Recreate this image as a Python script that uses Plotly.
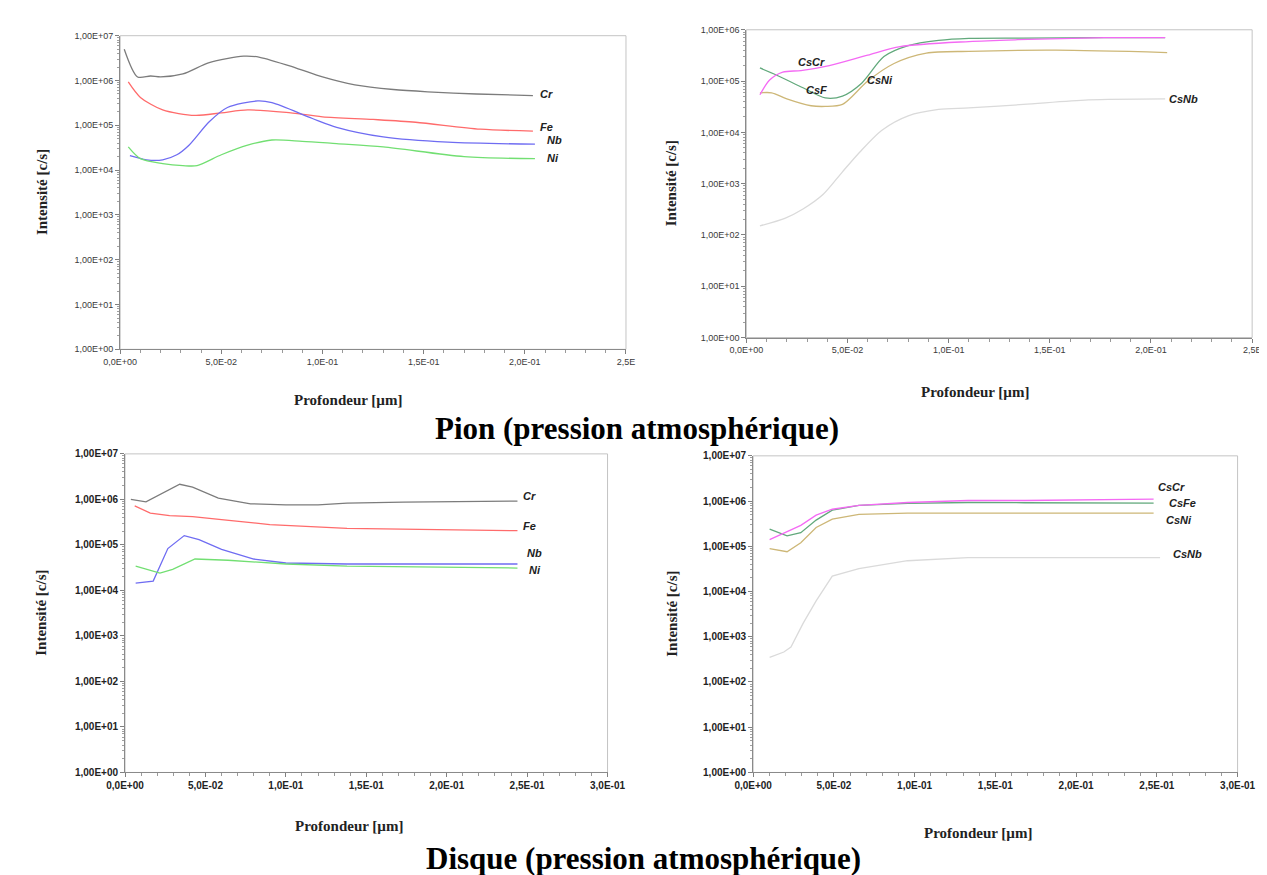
import plotly.graph_objects as go
import math

W, H = 1267, 875

# ---------------- data ----------------
# Pion - elements
pion_cr_x = [0.002, 0.0086, 0.015, 0.020, 0.031, 0.044, 0.061, 0.069, 0.087, 0.100, 0.116, 0.135, 0.152, 0.176, 0.204]
pion_cr_y = [5.0e6, 1.2e6, 1.26e6, 1.2e6, 1.4e6, 2.5e6, 3.5e6, 3.3e6, 1.9e6, 1.2e6, 8.0e5, 6.3e5, 5.6e5, 5.0e5, 4.6e5]
pion_fe_x = [0.004, 0.010, 0.021, 0.037, 0.050, 0.063, 0.082, 0.100, 0.125, 0.146, 0.178, 0.204]
pion_fe_y = [9.3e5, 4.2e5, 2.2e5, 1.66e5, 1.9e5, 2.2e5, 1.95e5, 1.55e5, 1.35e5, 1.17e5, 8.2e4, 7.4e4]
pion_nb_x = [0.0048, 0.013, 0.021, 0.028, 0.034, 0.044, 0.053, 0.068, 0.075, 0.095, 0.107, 0.130, 0.162, 0.205]
pion_nb_y = [2.1e4, 1.7e4, 1.7e4, 2.2e4, 3.6e4, 1.2e5, 2.5e5, 3.5e5, 3.2e5, 1.42e5, 9.0e4, 5.5e4, 4.2e4, 3.8e4]
pion_ni_x = [0.004, 0.010, 0.021, 0.031, 0.038, 0.050, 0.063, 0.075, 0.090, 0.107, 0.130, 0.170, 0.205]
pion_ni_y = [3.3e4, 1.8e4, 1.4e4, 1.26e4, 1.26e4, 2.2e4, 3.6e4, 4.7e4, 4.4e4, 3.9e4, 3.3e4, 2.0e4, 1.8e4]

# Pion - Cs clusters
pion_cscr_x = [0.0067, 0.0115, 0.018, 0.027, 0.041, 0.060, 0.076, 0.110, 0.134, 0.177, 0.207]
pion_cscr_y = [5.4e4, 1.05e5, 1.5e5, 1.6e5, 2.0e5, 3.2e5, 4.7e5, 5.9e5, 6.4e5, 7.0e5, 7.0e5]
pion_csfe_x = [0.0067, 0.015, 0.028, 0.039, 0.0475, 0.057, 0.068, 0.080, 0.095, 0.110, 0.137, 0.177, 0.207]
pion_csfe_y = [1.8e5, 1.3e5, 7.4e4, 4.7e4, 5.1e4, 9.1e4, 3.0e5, 4.9e5, 6.2e5, 6.8e5, 6.9e5, 7.0e5, 7.0e5]
pion_csni_x = [0.0067, 0.0125, 0.020, 0.032, 0.039, 0.0475, 0.060, 0.073, 0.089, 0.110, 0.153, 0.208]
pion_csni_y = [5.9e4, 5.9e4, 4.5e4, 3.3e4, 3.2e4, 3.5e4, 1.0e5, 2.2e5, 3.5e5, 3.8e5, 4.0e5, 3.6e5]
pion_csnb_x = [0.0067, 0.019, 0.028, 0.038, 0.0475, 0.056, 0.067, 0.080, 0.095, 0.110, 0.137, 0.169, 0.207]
pion_csnb_y = [1.5e2, 2.1e2, 3.2e2, 6.2e2, 1.7e3, 4.1e3, 1.1e4, 2.1e4, 2.8e4, 3.0e4, 3.5e4, 4.3e4, 4.5e4]

# Disque - elements
disq_cr_x = [0.0036, 0.013, 0.034, 0.042, 0.058, 0.078, 0.100, 0.120, 0.138, 0.173, 0.244]
disq_cr_y = [1.0e6, 8.8e5, 2.15e6, 1.85e6, 1.07e6, 8.0e5, 7.6e5, 7.6e5, 8.3e5, 8.7e5, 9.2e5]
disq_fe_x = [0.006, 0.0157, 0.0277, 0.042, 0.060, 0.090, 0.138, 0.173, 0.244]
disq_fe_y = [7.2e5, 5.0e5, 4.4e5, 4.2e5, 3.6e5, 2.8e5, 2.3e5, 2.2e5, 2.05e5]
disq_nb_x = [0.0066, 0.0175, 0.0266, 0.0368, 0.046, 0.060, 0.080, 0.100, 0.138, 0.244]
disq_nb_y = [1.45e4, 1.6e4, 8.3e4, 1.6e5, 1.3e5, 8.0e4, 4.9e4, 4.0e4, 3.8e4, 3.8e4]
disq_ni_x = [0.0066, 0.0217, 0.0296, 0.0435, 0.064, 0.100, 0.138, 0.244]
disq_ni_y = [3.4e4, 2.4e4, 2.9e4, 4.9e4, 4.6e4, 3.8e4, 3.4e4, 3.1e4]

# Disque - Cs clusters
disq_cs_x = [0.0102, 0.021, 0.0295, 0.039, 0.049, 0.0655, 0.0956, 0.133, 0.168, 0.248]
disq_cscr_y = [1.4e5, 2.1e5, 2.9e5, 4.9e5, 6.6e5, 8.0e5, 9.3e5, 1.03e6, 1.03e6, 1.1e6]
disq_csfe_y = [2.4e5, 1.7e5, 2.0e5, 3.8e5, 6.3e5, 8.0e5, 8.9e5, 9.3e5, 9.2e5, 9.0e5]
disq_csni_y = [8.9e4, 7.6e4, 1.2e5, 2.6e5, 4.0e5, 5.1e5, 5.4e5, 5.4e5, 5.4e5, 5.4e5]
disq_csnb_x = [0.0102, 0.019, 0.0234, 0.031, 0.039, 0.049, 0.0655, 0.0956, 0.133, 0.252]
disq_csnb_y = [3.5e2, 4.6e2, 5.9e2, 2.0e3, 6.2e3, 2.2e4, 3.2e4, 4.8e4, 5.6e4, 5.6e4]

# tick labels
y_ticktext_7 = ["1,00E+00", "1,00E+01", "1,00E+02", "1,00E+03", "1,00E+04", "1,00E+05", "1,00E+06", "1,00E+07"]
x_ticktext_top = ["0,0E+00", "5,0E-02", "1,0E-01", "1,5E-01", "2,0E-01", "2,5E"]
x_ticktext_bot = ["0,0E+00", "5,0E-02", "1,0E-01", "1,5E-01", "2,0E-01", "2,5E-01", "3,0E-01"]

titles = ["Pion (pression atmosphérique)", "Disque (pression atmosphérique)"]
x_title = "Profondeur [µm]"
y_title = "Intensité [c/s]"

# ---------------- styling ----------------
C_CR, C_FE, C_NB, C_NI = "#7c7c7c", "#ff6b6b", "#6f6cf2", "#72df72"
C_CSCR, C_CSFE, C_CSNI, C_CSNB = "#f46af4", "#62a97c", "#cdb777", "#dadada"

# panel boxes in pixels: (left, right, top, bottom)
boxes = {
    1: (96, 617, 22, 340),
    2: (741, 1262, 16, 328),
    3: (101, 598, 446, 769),
    4: (748, 1247, 448, 769),
}

def dom(b):
    l, r, t, bt = b
    return [l / W, r / W], [1 - bt / H, 1 - t / H]

fig = go.Figure()

def add(panel, x, y, color, shape="linear"):
    sfx = "" if panel == 1 else str(panel)
    fig.add_trace(go.Scatter(x=x, y=y, mode="lines", xaxis="x" + sfx, yaxis="y" + sfx,
                             line=dict(color=color, width=1.3, shape=shape, smoothing=0.8),
                             showlegend=False, hoverinfo="skip"))

add(1, pion_cr_x, pion_cr_y, C_CR, "spline")
add(1, pion_fe_x, pion_fe_y, C_FE, "spline")
add(1, pion_nb_x, pion_nb_y, C_NB, "spline")
add(1, pion_ni_x, pion_ni_y, C_NI, "spline")

add(2, pion_csnb_x, pion_csnb_y, C_CSNB, "spline")
add(2, pion_csni_x, pion_csni_y, C_CSNI, "spline")
add(2, pion_csfe_x, pion_csfe_y, C_CSFE, "spline")
add(2, pion_cscr_x, pion_cscr_y, C_CSCR, "spline")

add(3, disq_cr_x, disq_cr_y, C_CR)
add(3, disq_fe_x, disq_fe_y, C_FE)
add(3, disq_nb_x, disq_nb_y, C_NB)
add(3, disq_ni_x, disq_ni_y, C_NI)

add(4, disq_csnb_x, disq_csnb_y, C_CSNB)
add(4, disq_cs_x, disq_csni_y, C_CSNI)
add(4, disq_cs_x, disq_csfe_y, C_CSFE)
add(4, disq_cs_x, disq_cscr_y, C_CSCR)

minor_log = [k * 10 ** n for n in range(0, 7) for k in range(2, 10)]

layout = dict(width=W, height=H, margin=dict(l=0, r=0, t=0, b=0),
              paper_bgcolor="white", plot_bgcolor="white", showlegend=False)

for p, b in boxes.items():
    sfx = "" if p == 1 else str(p)
    xd, yd = dom(b)
    top = p in (1, 2)
    ndec = 6 if p == 2 else 7
    xmax = 0.25 if top else 0.30
    xt = x_ticktext_top if top else x_ticktext_bot
    tfont = dict(family="Liberation Sans, Arial", size=9, color="#3a3a3a") if top else \
            dict(family="Liberation Sans, Arial", size=10, color="#222", weight="bold")
    layout["xaxis" + sfx] = dict(
        domain=xd, anchor="y" + sfx, range=[0, xmax],
        tickmode="array", tickvals=[i * 0.05 for i in range(len(xt))], ticktext=xt,
        ticks="outside", ticklen=4, tickcolor="#808080", tickfont=tfont,
        showline=True, linecolor="#8a8a8a", linewidth=1, showgrid=False, zeroline=False,
        minor=dict(ticks="outside", ticklen=3, tickcolor="#9a9a9a", dtick=0.01, showgrid=False),
        fixedrange=True)
    layout["yaxis" + sfx] = dict(
        domain=yd, anchor="x" + sfx, type="log", range=[0, ndec],
        tickmode="array", tickvals=[10 ** i for i in range(ndec + 1)], ticktext=y_ticktext_7[:ndec + 1],
        ticks="outside", ticklen=4, tickcolor="#808080", tickfont=tfont,
        showline=True, linecolor="#8a8a8a", linewidth=1, showgrid=False, zeroline=False,
        minor=dict(ticks="outside", ticklen=2, tickcolor="#a0a0a0",
                   tickvals=[v for v in minor_log if v < 10 ** ndec], showgrid=False),
        fixedrange=True)

shapes = []
for p in boxes:
    sfx = "" if p == 1 else str(p)
    shapes.append(dict(type="rect", xref="x" + sfx + " domain", yref="y" + sfx + " domain",
                       x0=0, x1=1, y0=0, y1=1, line=dict(color="#c4c4c4", width=1), layer="below"))
layout["shapes"] = shapes

ann = []
lab_font = dict(family="Liberation Sans, Arial", size=11, color="#222", weight="bold", style="italic")

def end_label(panel, text, x, y, xs, ys):
    sfx = "" if panel == 1 else str(panel)
    ann.append(dict(text=text, x=x[-1], y=math.log10(y[-1]), xref="x" + sfx, yref="y" + sfx,
                    xanchor="left", yanchor="middle", xshift=xs, yshift=ys, showarrow=False, font=lab_font))

end_label(1, "Cr", pion_cr_x, pion_cr_y, 5, 2)
end_label(1, "Fe", pion_fe_x, pion_fe_y, 5, 4)
end_label(1, "Nb", pion_nb_x, pion_nb_y, 10, 4)
end_label(1, "Ni", pion_ni_x, pion_ni_y, 10, 1)
end_label(2, "CsNb", pion_csnb_x, pion_csnb_y, 2, 0)

def free_label(panel, text, x, y):
    sfx = "" if panel == 1 else str(panel)
    ann.append(dict(text=text, x=x, y=math.log10(y), xref="x" + sfx, yref="y" + sfx,
                    xanchor="center", yanchor="middle", showarrow=False, font=lab_font))

free_label(2, "CsCr", 0.032, 2.4e5)
free_label(2, "CsF", 0.0345, 6.8e4)
free_label(2, "CsNi", 0.066, 1.05e5)

end_label(3, "Cr", disq_cr_x, disq_cr_y, 4, 5)
end_label(3, "Fe", disq_fe_x, disq_fe_y, 4, 5)
end_label(3, "Nb", disq_nb_x, disq_nb_y, 8, 11)
end_label(3, "Ni", disq_ni_x, disq_ni_y, 10, -2)

end_label(4, "CsCr", disq_cs_x, disq_cscr_y, 2, 12)
end_label(4, "CsFe", disq_cs_x, disq_csfe_y, 13, 0)
end_label(4, "CsNi", disq_cs_x, disq_csni_y, 10, -7)
end_label(4, "CsNb", disq_csnb_x, disq_csnb_y, 11, 4)

title_font = dict(family="Liberation Serif, Times New Roman", size=15, color="#222", weight="bold")
xt_pos = {1: (331, 391), 2: (977, 383), 3: (332, 823), 4: (980, 830)}
yt_pos = {1: 15, 2: 663, 3: 15, 4: 665}
for p, b in boxes.items():
    xp, yp = xt_pos[p]
    ann.append(dict(text=x_title, x=xp / W, y=1 - yp / H, xref="paper", yref="paper",
                    xanchor="center", yanchor="middle", showarrow=False, font=title_font))
    ann.append(dict(text=y_title, x=yt_pos[p] / W, y=1 - (b[2] + b[3]) / 2 / H, xref="paper", yref="paper",
                    xanchor="center", yanchor="middle", textangle=-90, showarrow=False, font=title_font))

big_font = dict(family="Liberation Serif, Times New Roman", size=31, color="#000", weight="bold")
ann.append(dict(text=titles[0], x=628 / W, y=1 - 420 / H, xref="paper", yref="paper",
                xanchor="center", yanchor="middle", showarrow=False, font=big_font))
ann.append(dict(text=titles[1], x=635 / W, y=0, xref="paper", yref="paper",
                xanchor="center", yanchor="bottom", borderpad=0, showarrow=False, font=big_font))

layout["annotations"] = ann
fig.update_layout(**layout)
fig.write_html("out.html")
